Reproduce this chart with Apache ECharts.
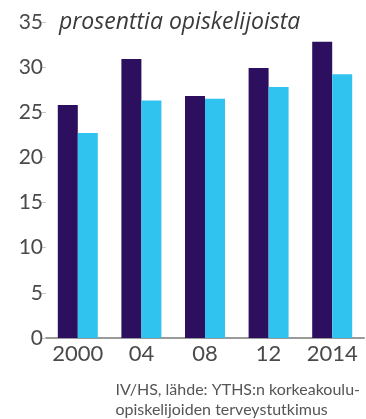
<!DOCTYPE html>
<html>
<head>
<meta charset="utf-8">
<script src="https://cdn.jsdelivr.net/npm/echarts@6/dist/echarts.min.js"></script>
<style>
html,body{margin:0;padding:0;background:#fff;}
#main{width:366px;height:419px;}
</style>
</head>
<body>
<div id="main"></div>
<script>
const categories = ['2000', '04', '08', '12', '2014'];
const darkValues = [25.8, 30.9, 26.8, 29.9, 32.8];
const lightValues = [22.7, 26.3, 26.5, 27.8, 29.2];
const unitLabel = 'prosenttia opiskelijoista';
const sourceText = 'IV/HS, lähde: YTHS:n korkeakoulu-\nopiskelijoiden terveystutkimus';

const chart = echarts.init(document.getElementById('main'), null, {renderer: 'canvas'});
const FONT = 'Lato';
chart.setOption({
  animation: false,
  backgroundColor: '#ffffff',
  title: [
    {
      text: unitLabel,
      left: 54, top: 6,
      textStyle: {fontFamily: 'Open Sans', fontStyle: 'italic', fontWeight: 'normal', fontSize: 23, color: '#3a3a3a'}
    }
  ],
  graphic: [
    {
      type: 'text',
      right: 6, top: 380,
      style: {
        text: sourceText,
        align: 'right',
        font: 'normal 16px Lato',
        lineHeight: 20,
        fill: '#555'
      }
    }
  ],
  grid: {left: 46, right: 2, top: 22, bottom: 81, containLabel: false},
  xAxis: {
    type: 'category',
    data: categories,
    axisLine: {show: true, lineStyle: {color: '#9a9a9a', width: 2}},
    axisTick: {show: false},
    axisLabel: {interval: 0, fontFamily: FONT, fontSize: 22, color: '#4a4a4a', margin: 5}
  },
  yAxis: {
    type: 'value',
    min: 0, max: 35, interval: 5,
    splitLine: {show: false},
    axisLine: {show: false},
    axisTick: {show: true, length: 5, lineStyle: {color: '#c8c8c8', width: 1}},
    axisLabel: {fontFamily: FONT, fontSize: 21, color: '#4a4a4a', margin: 3}
  },
  series: [
    {
      name: 'dark', type: 'bar', data: darkValues,
      barWidth: 20, barGap: '0%',
      itemStyle: {color: '#2c0f5e'}
    },
    {
      name: 'light', type: 'bar', data: lightValues,
      barWidth: 20, barGap: '0%',
      itemStyle: {color: '#30c3f0'}
    }
  ]
});
</script>
</body>
</html>
